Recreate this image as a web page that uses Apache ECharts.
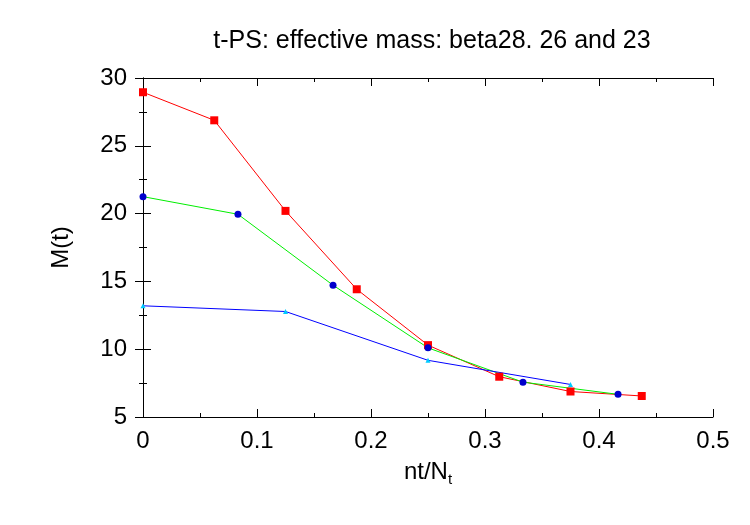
<!DOCTYPE html>
<html>
<head>
<meta charset="utf-8">
<script src="https://cdn.jsdelivr.net/npm/echarts@6/dist/echarts.min.js"></script>
<style>html,body{margin:0;padding:0;background:#fff}#c{width:750px;height:525px}</style>
</head>
<body>
<div id="c"></div>
<script>
var titleText = 't-PS: effective mass: beta28. 26 and 23';
var xRed = [0, 0.0625, 0.125, 0.1875, 0.25, 0.3125, 0.375, 0.4375];
var yRed = [28.95, 26.88, 20.2, 14.42, 10.3, 7.97, 6.88, 6.55];
var xGreen = [0, 0.0833, 0.1667, 0.25, 0.3333, 0.4167];
var yGreen = [21.25, 19.95, 14.72, 10.1, 7.57, 6.67];
var xBlue = [0, 0.125, 0.25, 0.375];
var yBlue = [13.2, 12.78, 9.18, 7.4];

function pairs(xs, ys) { return xs.map(function (x, i) { return [x, ys[i]]; }); }

var font = 'Liberation Sans, Arial, sans-serif';
var fs = 24;
var chart = echarts.init(document.getElementById('c'), null, {renderer: 'canvas'});
var axisCommon = {
  axisLine: {show: true, lineStyle: {color: '#000', width: 1}},
  axisTick: {show: true, inside: true, length: 8, lineStyle: {color: '#000'}},
  minorTick: {show: true, splitNumber: 2, length: 4, lineStyle: {color: '#000'}},
  splitLine: {show: false}
};
chart.setOption({
  animation: false,
  title: {
    text: titleText, left: 427, top: 24, textAlign: 'center',
    textStyle: {fontFamily: font, fontSize: 25, fontWeight: 'normal', color: '#000'}
  },
  grid: {left: 143, right: 37, top: 78, bottom: 108},
  xAxis: [
    Object.assign({
      type: 'value', min: 0, max: 0.5, interval: 0.1, position: 'bottom',
      name: '{a|nt/N}{s|t}', nameLocation: 'middle', nameGap: 41,
      nameTextStyle: {rich: {a: {fontFamily: font, fontSize: fs, color: '#000'}, s: {fontFamily: font, fontSize: 15, color: '#000', verticalAlign: 'bottom', padding: [14, 0, 0, 0]}}},
      axisLabel: {fontFamily: font, fontSize: fs, color: '#000', margin: 12}
    }, axisCommon),
    Object.assign({
      type: 'value', min: 0, max: 0.5, interval: 0.1, position: 'top',
      axisLabel: {show: false}
    }, axisCommon)
  ],
  yAxis: [
    Object.assign({
      type: 'value', min: 5, max: 30, interval: 5, position: 'left',
      name: 'M(t)', nameLocation: 'middle', nameGap: 70, nameRotate: 90,
      nameTextStyle: {fontFamily: font, fontSize: fs, color: '#000'},
      axisLabel: {fontFamily: font, fontSize: fs, color: '#000', margin: 16}
    }, axisCommon),
    Object.assign({
      type: 'value', min: 5, max: 30, interval: 5, position: 'right',
      axisLabel: {show: false}
    }, axisCommon)
  ],
  series: [
    {type: 'line', name: 'beta28', data: pairs(xRed, yRed), symbol: 'rect', symbolSize: 8,
      lineStyle: {color: '#ff0000', width: 1}, itemStyle: {color: '#ff0000'}},
    {type: 'line', name: 'beta26', data: pairs(xGreen, yGreen), symbol: 'circle', symbolSize: 7,
      lineStyle: {color: '#00ee00', width: 1}, itemStyle: {color: '#0000cc'}},
    {type: 'line', name: 'beta23', data: pairs(xBlue, yBlue), symbol: 'triangle', symbolSize: 5,
      lineStyle: {color: '#0000ff', width: 1}, itemStyle: {color: '#00ccff'}}
  ]
});
</script>
</body>
</html>
